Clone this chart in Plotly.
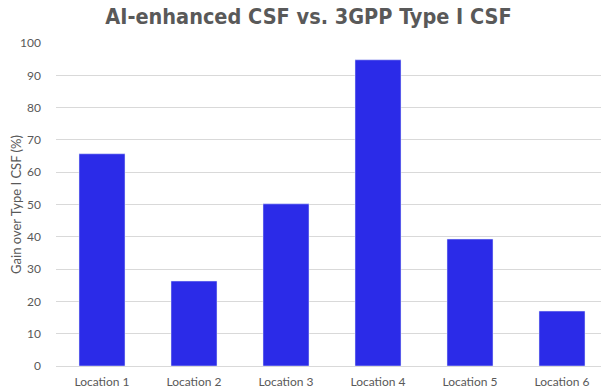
import plotly.graph_objects as go

categories = ["Location 1", "Location 2", "Location 3", "Location 4", "Location 5", "Location 6"]
gains = [65.7, 26.3, 50.2, 94.8, 39.3, 17.0]
y_ticks = [0, 10, 20, 30, 40, 50, 60, 70, 80, 90, 100]

fig = go.Figure(
    go.Bar(x=categories, y=gains, marker_color="#2B2BE8", width=0.5)
)

# page body has an 8px default margin, so the figure is sized to fit the window
fig.update_layout(
    width=601, height=381,
    margin=dict(l=48, r=1, t=35, b=23, autoexpand=False),
    paper_bgcolor="white", plot_bgcolor="white",
    title=dict(
        text="<b>AI-enhanced CSF vs. 3GPP Type I CSF</b>",
        x=0.5, xanchor="center", y=1.0, yanchor="top", pad=dict(t=1),
        font=dict(family="DejaVu Sans Condensed, Liberation Sans Narrow, Roboto, Arial", size=21.5, color="#595959"),
    ),
    font=dict(family="Lato, Roboto, Arial", size=12, color="#595959"),
    showlegend=False,
    bargap=0.5,
)
fig.update_xaxes(showgrid=False, showline=True, linecolor="#D9D9D9", linewidth=1,
                 ticks="", automargin=False, ticklabelstandoff=5,
                 tickfont=dict(size=12, color="#595959"))
fig.update_yaxes(range=[0, 100], tickvals=y_ticks, showgrid=True, gridcolor="#D9D9D9",
                 gridwidth=1, zeroline=False, ticks="", ticklabelstandoff=14, automargin=False,
                 title=dict(text="Gain over Type I CSF (%)", font=dict(size=13, color="#595959"), standoff=8),
                 tickfont=dict(size=12, color="#595959"))

fig.write_html("out.html")
